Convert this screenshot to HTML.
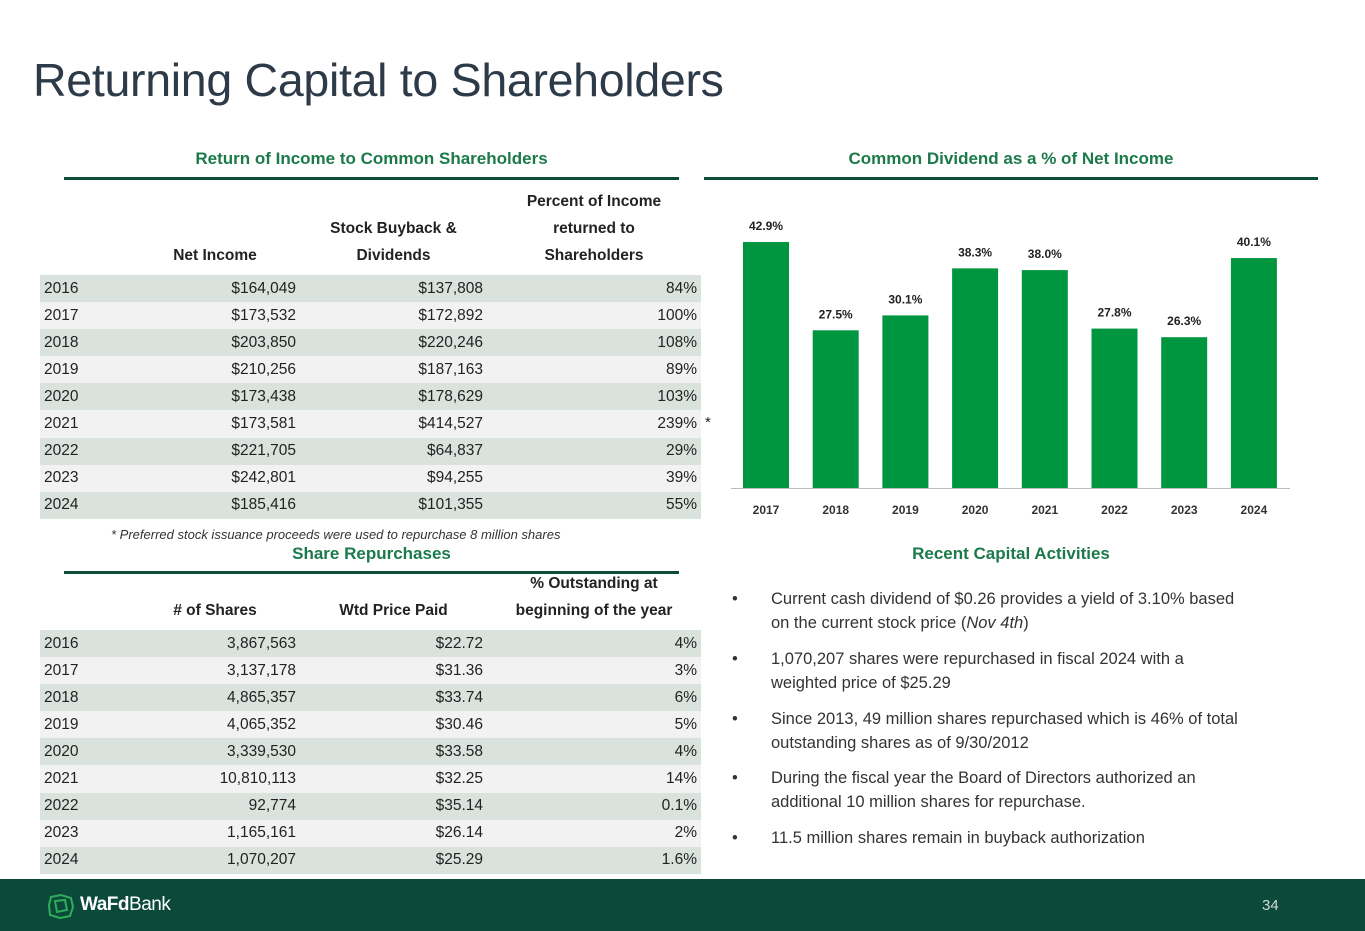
<!DOCTYPE html>
<html><head><meta charset="utf-8">
<style>
*{margin:0;padding:0;box-sizing:border-box}
body{width:1365px;height:931px;position:relative;background:#fff;font-family:"Liberation Sans",sans-serif;overflow:hidden;color:#222}
.abs{position:absolute}
.title{left:33px;top:53px;font-size:46.5px;color:#2d3a48;letter-spacing:-0.3px}
.sec{font-size:17px;font-weight:bold;color:#1c7a4a;text-align:center}
.rule{height:3px;background:#0c4c3a}
table{position:absolute;border-collapse:collapse;font-size:15.5px}
td{padding:0 4px;height:27.1px;text-align:right;white-space:nowrap}
td:first-child{text-align:left}
tr.a td{background:#d9e2dc}
tr.b td{background:#f2f2f2}
th{font-weight:bold;font-size:15.5px;text-align:center;vertical-align:bottom;padding-bottom:6px;line-height:27px}
.bul{left:732px;font-size:16.5px;color:#333;line-height:24px;width:600px}
.bul span{position:absolute;left:0}
.bul div{margin-left:39px}
</style></head><body>
<div class="abs title">Returning Capital to Shareholders</div>

<div class="abs sec" style="left:64px;width:615px;top:149px">Return of Income to Common Shareholders</div>
<div class="abs rule" style="left:64px;width:615px;top:177px"></div>
<div class="abs sec" style="left:704px;width:614px;top:149px">Common Dividend as a % of Net Income</div>
<div class="abs rule" style="left:704px;width:614px;top:177px"></div>

<table style="left:40px;top:186px;width:661px">
<colgroup><col style="width:90px"><col style="width:170px"><col style="width:187px"><col style="width:214px"></colgroup>
<tr style="height:89px"><th></th><th>Net Income</th><th>Stock Buyback &amp;<br>Dividends</th><th>Percent of Income<br>returned to<br>Shareholders</th></tr>
<tr class="a"><td>2016</td><td>$164,049</td><td>$137,808</td><td>84%</td></tr>
<tr class="b"><td>2017</td><td>$173,532</td><td>$172,892</td><td>100%</td></tr>
<tr class="a"><td>2018</td><td>$203,850</td><td>$220,246</td><td>108%</td></tr>
<tr class="b"><td>2019</td><td>$210,256</td><td>$187,163</td><td>89%</td></tr>
<tr class="a"><td>2020</td><td>$173,438</td><td>$178,629</td><td>103%</td></tr>
<tr class="b"><td>2021</td><td>$173,581</td><td>$414,527</td><td>239%</td></tr>
<tr class="a"><td>2022</td><td>$221,705</td><td>$64,837</td><td>29%</td></tr>
<tr class="b"><td>2023</td><td>$242,801</td><td>$94,255</td><td>39%</td></tr>
<tr class="a"><td>2024</td><td>$185,416</td><td>$101,355</td><td>55%</td></tr>
</table>
<div class="abs" style="left:705px;top:414px;font-size:15px">*</div>
<div class="abs" style="left:111px;top:527px;font-size:13px;font-style:italic;color:#333">* Preferred stock issuance proceeds were used to repurchase 8 million shares</div>

<div class="abs sec" style="left:64px;width:615px;top:544px">Share Repurchases</div>
<div class="abs rule" style="left:64px;width:615px;top:571px"></div>
<table style="left:40px;top:570px;width:661px">
<colgroup><col style="width:90px"><col style="width:170px"><col style="width:187px"><col style="width:214px"></colgroup>
<tr style="height:58px"><th></th><th>#&nbsp;of Shares</th><th>Wtd Price Paid</th><th>% Outstanding at<br>beginning of the year</th></tr>
<tr class="a"><td>2016</td><td>3,867,563</td><td>$22.72</td><td>4%</td></tr>
<tr class="b"><td>2017</td><td>3,137,178</td><td>$31.36</td><td>3%</td></tr>
<tr class="a"><td>2018</td><td>4,865,357</td><td>$33.74</td><td>6%</td></tr>
<tr class="b"><td>2019</td><td>4,065,352</td><td>$30.46</td><td>5%</td></tr>
<tr class="a"><td>2020</td><td>3,339,530</td><td>$33.58</td><td>4%</td></tr>
<tr class="b"><td>2021</td><td>10,810,113</td><td>$32.25</td><td>14%</td></tr>
<tr class="a"><td>2022</td><td>92,774</td><td>$35.14</td><td>0.1%</td></tr>
<tr class="b"><td>2023</td><td>1,165,161</td><td>$26.14</td><td>2%</td></tr>
<tr class="a"><td>2024</td><td>1,070,207</td><td>$25.29</td><td>1.6%</td></tr>
</table>

<svg class="abs" style="left:0;top:0" width="1365" height="931" id="chart"></svg>

<div class="abs sec" style="left:704px;width:614px;top:544px">Recent Capital Activities</div>
<div class="abs bul" style="top:587px"><span>•</span><div>Current cash dividend of $0.26 provides a yield of 3.10% based<br>on the current stock price (<i>Nov 4th</i>)</div></div>
<div class="abs bul" style="top:647px"><span>•</span><div>1,070,207 shares were repurchased in fiscal 2024 with a<br>weighted price of $25.29</div></div>
<div class="abs bul" style="top:707px"><span>•</span><div>Since 2013, 49 million shares repurchased which is 46% of total<br>outstanding shares as of 9/30/2012</div></div>
<div class="abs bul" style="top:766px"><span>•</span><div>During the fiscal year the Board of Directors authorized an<br>additional 10 million shares for repurchase.</div></div>
<div class="abs bul" style="top:826px"><span>•</span><div>11.5 million shares remain in buyback authorization</div></div>

<div class="abs" style="left:0;top:879px;width:1365px;height:52px;background:#0b4a3a"></div>
<svg class="abs" style="left:47px;top:893px" width="28" height="26"><g fill="none" stroke="#2fae5a" stroke-width="2"><path d="M4 4 L14 2 L24 5 L26 14 L23 23 L13 25 L3 22 L2 12 Z"/><path d="M8 8 L18 7 L20 17 L10 19 Z"/></g></svg>
<div class="abs" style="left:80px;top:894px;font-size:19px;color:#fff;letter-spacing:-0.5px"><b>WaFd</b>Bank</div>
<div class="abs" style="left:1262px;top:897px;font-size:15px;color:#cfd8d3">34</div>

<script>
const years=["2017","2018","2019","2020","2021","2022","2023","2024"];
const values=[42.9,27.5,30.1,38.3,38.0,27.8,26.3,40.1];
const labels=["42.9%","27.5%","30.1%","38.3%","38.0%","27.8%","26.3%","40.1%"];
const svg=document.getElementById('chart');
const NS='http://www.w3.org/2000/svg';
const base=488, scale=246/42.9, x0=766, step=69.7, bw=46;
const xs=i=>x0+i*step, ys=v=>base-v*scale;
const ax=document.createElementNS(NS,'line');
ax.setAttribute('x1',731);ax.setAttribute('x2',1290);ax.setAttribute('y1',base+0.5);ax.setAttribute('y2',base+0.5);ax.setAttribute('stroke','#bbb');


svg.appendChild(ax);
values.forEach((v,i)=>{
 const r=document.createElementNS(NS,'rect');
 r.setAttribute('x',xs(i)-bw/2);r.setAttribute('y',ys(v));r.setAttribute('width',bw);r.setAttribute('height',base-ys(v));r.setAttribute('fill','#00963f');
 
 
 svg.appendChild(r);
 const t=document.createElementNS(NS,'text');
 t.setAttribute('x',xs(i));t.setAttribute('y',ys(v)-12);t.setAttribute('text-anchor','middle');t.setAttribute('font-size','12');t.setAttribute('font-weight','bold');t.setAttribute('fill','#222');
 t.textContent=labels[i];
 
 
 svg.appendChild(t);
 const c=document.createElementNS(NS,'text');
 c.setAttribute('x',xs(i));c.setAttribute('y',514);c.setAttribute('text-anchor','middle');c.setAttribute('font-size','12');c.setAttribute('font-weight','bold');c.setAttribute('fill','#333');
 c.textContent=years[i];
 
 
 svg.appendChild(c);
});
</script>
</body></html>
